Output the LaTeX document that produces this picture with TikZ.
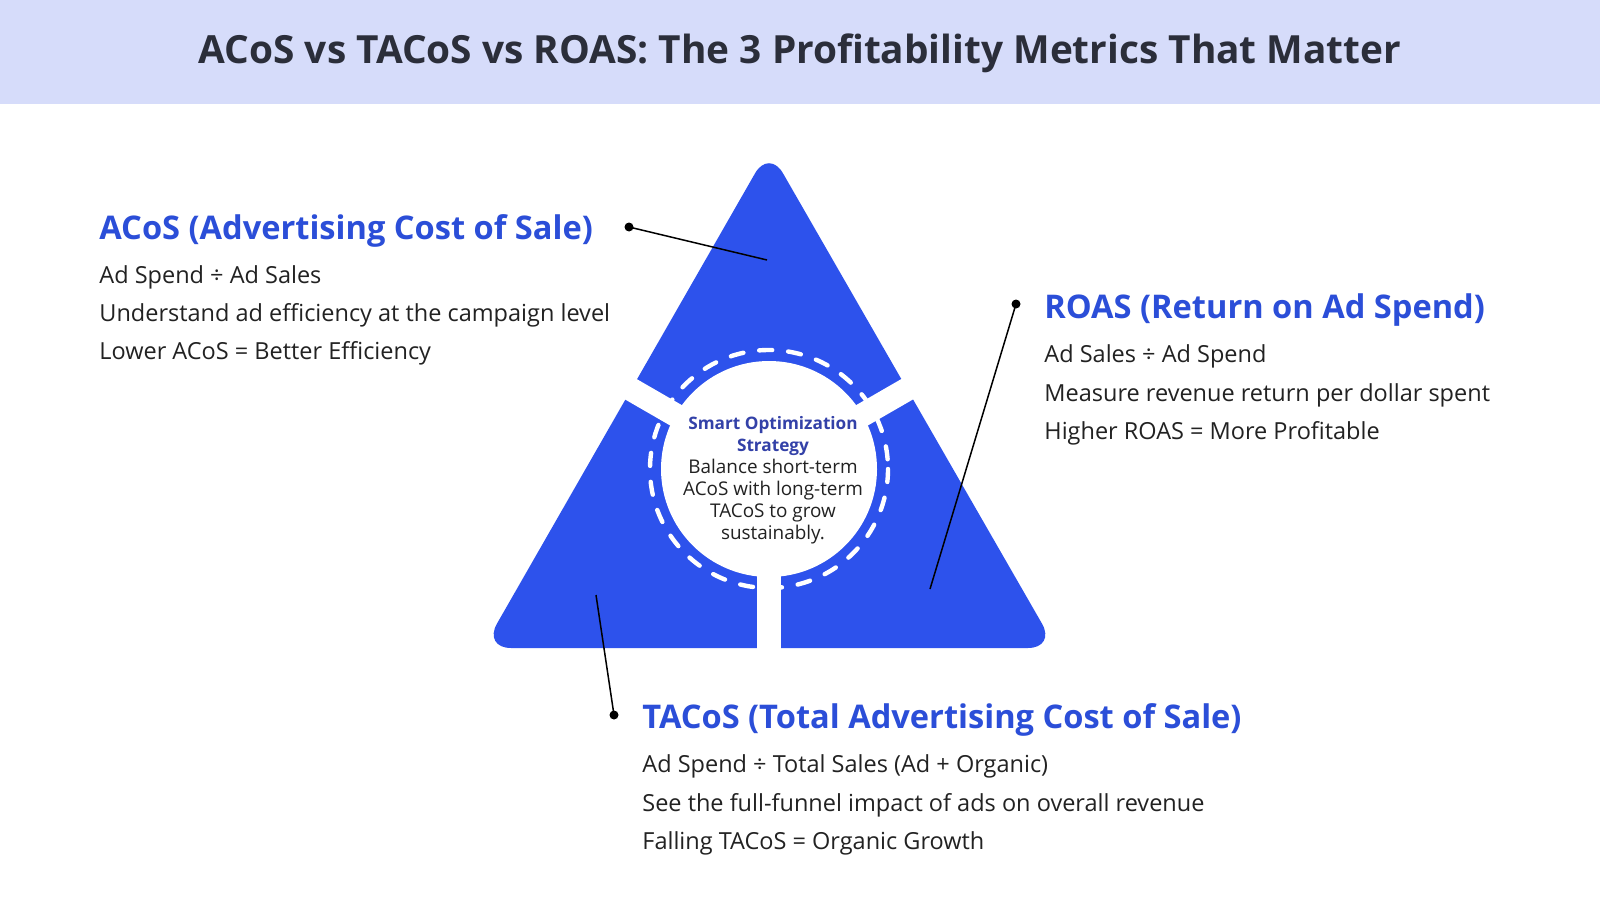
\documentclass[tikz,border=0pt]{standalone}
\usepackage{fontspec}
\setmainfont{Open Sans}
\usepackage{xcolor}
\usepackage{tikz}

\definecolor{bandbg}{HTML}{D6DCFA}
\definecolor{triblue}{HTML}{2D52EC}
\definecolor{headblue}{HTML}{2B4ED8}
\definecolor{navy}{HTML}{3341A8}
\definecolor{ink}{HTML}{222222}
\definecolor{titleink}{HTML}{2B2E3A}

\begin{document}
\begin{tikzpicture}[x=0.5pt,y=-0.5pt,
	head/.style={anchor=base west,inner sep=0pt,text=headblue,font=\fontsize{16.3}{19}\selectfont\bfseries},
	body/.style={anchor=base west,inner sep=0pt,text=ink,font=\fontsize{11.75}{13}\selectfont},
	leader/.style={black,line width=0.75pt},
	dot/.style={circle,fill=black,inner sep=0pt,minimum size=4.5pt}]
		\useasboundingbox (0,0) rectangle (1600,915);
		\fill[white] (0,0) rectangle (1600,915);
		\fill[bandbg] (0,0) rectangle (1600,104);
		\node[text=titleink,font=\fontsize{19.4}{23}\selectfont\bfseries] (title) at (800,53) {ACoS vs TACoS vs ROAS: The 3 Profitability Metrics That Matter};
		
		% triangle, hub and the three gaps
		\coordinate (hub) at (769,469);
		\fill[triblue,rounded corners=14pt] (769,149) -- (1056,648) -- (483,648) -- cycle;
		\fill[white] (hub) circle (108);
		\draw[white,line width=2.2pt,line cap=round,dash pattern=on 6.5pt off 8pt] (hub) circle (119);
		\foreach \ang in {210,330,90}
			\draw[white,line width=11.75pt] (hub) -- ++(\ang:330);
		
		\node[align=center,inner sep=0pt,text=ink,font=\fontsize{9.45}{11}\selectfont] (hubtext) at (773,480)
			{\textcolor{navy}{\fontsize{8.6}{11}\selectfont\bfseries Smart Optimization}\\\textcolor{navy}{\fontsize{8.6}{11}\selectfont\bfseries Strategy}\\Balance short-term\\ACoS with long-term\\TACoS to grow\\sustainably.};
		
		% ACoS
		\node[head] (acoshead) at (99,239) {ACoS (Advertising Cost of Sale)};
		\node[body] (acos1) at (99,283) {Ad Spend ÷ Ad Sales};
		\node[body] (acos2) at (99,321) {Understand ad efficiency at the campaign level};
		\node[body] (acos3) at (99,359) {Lower ACoS = Better Efficiency};
		\node[dot] (acosdot) at (629,227) {};
		\coordinate (acostip) at (767,260);
		\draw[leader] (acosdot.center) -- (acostip);
		
		% ROAS
		\node[head] (roashead) at (1044,318) {ROAS (Return on Ad Spend)};
		\node[body] (roas1) at (1044,362) {Ad Sales ÷ Ad Spend};
		\node[body] (roas2) at (1044,401) {Measure revenue return per dollar spent};
		\node[body] (roas3) at (1044,439) {Higher ROAS = More Profitable};
		\node[dot] (roasdot) at (1016,304) {};
		\coordinate (roastip) at (930,589);
		\draw[leader] (roasdot.center) -- (roastip);
		
		% TACoS
		\node[head] (tacoshead) at (642,728) {TACoS (Total Advertising Cost of Sale)};
		\node[body] (tacos1) at (642,772) {Ad Spend ÷ Total Sales (Ad + Organic)};
		\node[body] (tacos2) at (642,811) {See the full-funnel impact of ads on overall revenue};
		\node[body] (tacos3) at (642,849) {Falling TACoS = Organic Growth};
		\node[dot] (tacosdot) at (614,715) {};
		\coordinate (tacostip) at (596,595);
		\draw[leader] (tacosdot.center) -- (tacostip);
	\end{tikzpicture}
\end{document}
